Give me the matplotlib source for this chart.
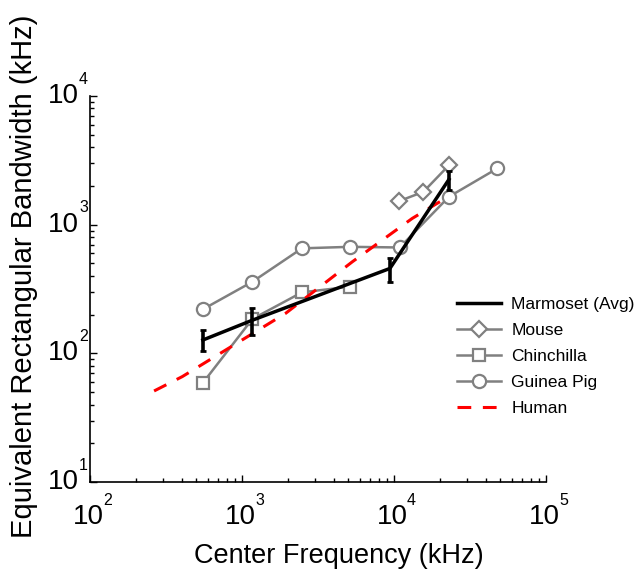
import numpy as np
import matplotlib
matplotlib.use("Agg")
import matplotlib.pyplot as plt
from matplotlib.ticker import LogLocator, NullFormatter

plt.rcParams['font.family'] = ['Liberation Sans', 'DejaVu Sans']

# values
marm_x = [553, 1170, 9400, 23000]
marm_y = [127, 181, 457, 2250]
marm_lo = [105, 139, 360, 1870]
marm_hi = [152, 224, 553, 2610]

mouse_x = [10800, 15600, 23000]
mouse_y = [1525, 1800, 2900]

chin_x = [553, 1170, 2480, 5160]
chin_y = [59, 185, 298, 330]

gp_x = [553, 1170, 2480, 5160, 10900, 23000, 47900]
gp_y = [220, 360, 655, 673, 665, 1650, 2740]

human_x = [264, 405, 1940, 5320, 13200, 20800]
human_y = [51, 66, 205, 515, 1120, 1550]

decades = [2, 3, 4, 5]
ydecades = [1, 2, 3, 4]

gray = '#808080'

fig = plt.figure(figsize=(6.41, 5.75), dpi=100)
ax = fig.add_axes([0.1404, 0.1617, 0.7114, 0.6713])

yerr = [np.array(marm_y) - np.array(marm_lo), np.array(marm_hi) - np.array(marm_y)]
ax.errorbar(marm_x, marm_y, yerr=yerr, fmt='none', ecolor='black', elinewidth=2.6,
            capsize=2, capthick=2, zorder=5)
ax.plot(marm_x, marm_y, color='black', lw=2.5, label='Marmoset (Avg)', zorder=5)
ax.plot(mouse_x, mouse_y, color=gray, lw=1.8, marker='D', ms=8, mfc='white',
        mec=gray, mew=1.6, label='Mouse', zorder=3)
ax.plot(chin_x, chin_y, color=gray, lw=1.8, marker='s', ms=8, mfc='white',
        mec=gray, mew=1.6, label='Chinchilla', zorder=3)
ax.plot(gp_x, gp_y, color=gray, lw=1.8, marker='o', ms=9.5, mfc='white',
        mec=gray, mew=1.6, label='Guinea Pig', zorder=3)
ax.plot(human_x, human_y, color='red', lw=2.2, dashes=(4.5, 3.8), label='Human', zorder=4)

ax.set_xscale('log')
ax.set_yscale('log')
ax.set_xlim(1e2, 1e5)
ax.set_ylim(1e1, 1e4)

for s in ['top', 'right']:
    ax.spines[s].set_visible(False)
ax.spines['left'].set_linewidth(1.2)
ax.spines['bottom'].set_linewidth(1.2)

ax.xaxis.set_major_locator(LogLocator(base=10, numticks=10))
ax.yaxis.set_major_locator(LogLocator(base=10, numticks=10))
ax.xaxis.set_minor_locator(LogLocator(base=10, subs=np.arange(2, 10), numticks=10))
ax.yaxis.set_minor_locator(LogLocator(base=10, subs=np.arange(2, 10), numticks=10))
ax.xaxis.set_major_formatter(NullFormatter())
ax.yaxis.set_major_formatter(NullFormatter())
ax.tick_params(which='major', direction='in', length=5, width=1)
ax.tick_params(which='minor', direction='in', length=3, width=1)

# tick labels as "10" with a small raised exponent
for d in decades:
    ax.annotate('10', xy=(10.0 ** d, 0), xycoords=('data', 'axes fraction'),
                xytext=(-2, -22), textcoords='offset pixels', ha='center', va='top',
                fontsize=20)
    ax.annotate(str(d), xy=(10.0 ** d, 0), xycoords=('data', 'axes fraction'),
                xytext=(13, -18), textcoords='offset pixels', ha='left', va='center',
                fontsize=11.5)
for d in ydecades:
    ax.annotate('10', xy=(0, 10.0 ** d), xycoords=('axes fraction', 'data'),
                xytext=(-11, 0), textcoords='offset pixels', ha='right', va='center',
                fontsize=20)
    ax.annotate(str(d), xy=(0, 10.0 ** d), xycoords=('axes fraction', 'data'),
                xytext=(-11, 17), textcoords='offset pixels', ha='left', va='center',
                fontsize=11.5)

fig.text(339 / 641, 1 - 556 / 575, 'Center Frequency (kHz)', fontsize=19.5,
         ha='center', va='center')
fig.text(24 / 641, 1 - 276 / 575, 'Equivalent Rectangular Bandwidth (kHz)', fontsize=21,
         ha='center', va='center', rotation=90)

ax.legend(loc='center left', bbox_to_anchor=(0.70, 0.38), bbox_transform=fig.transFigure,
          frameon=False, fontsize=12.5, handlelength=2.5, handletextpad=0.6,
          labelspacing=0.62, borderpad=0)

fig.savefig('out.png', dpi=100)
